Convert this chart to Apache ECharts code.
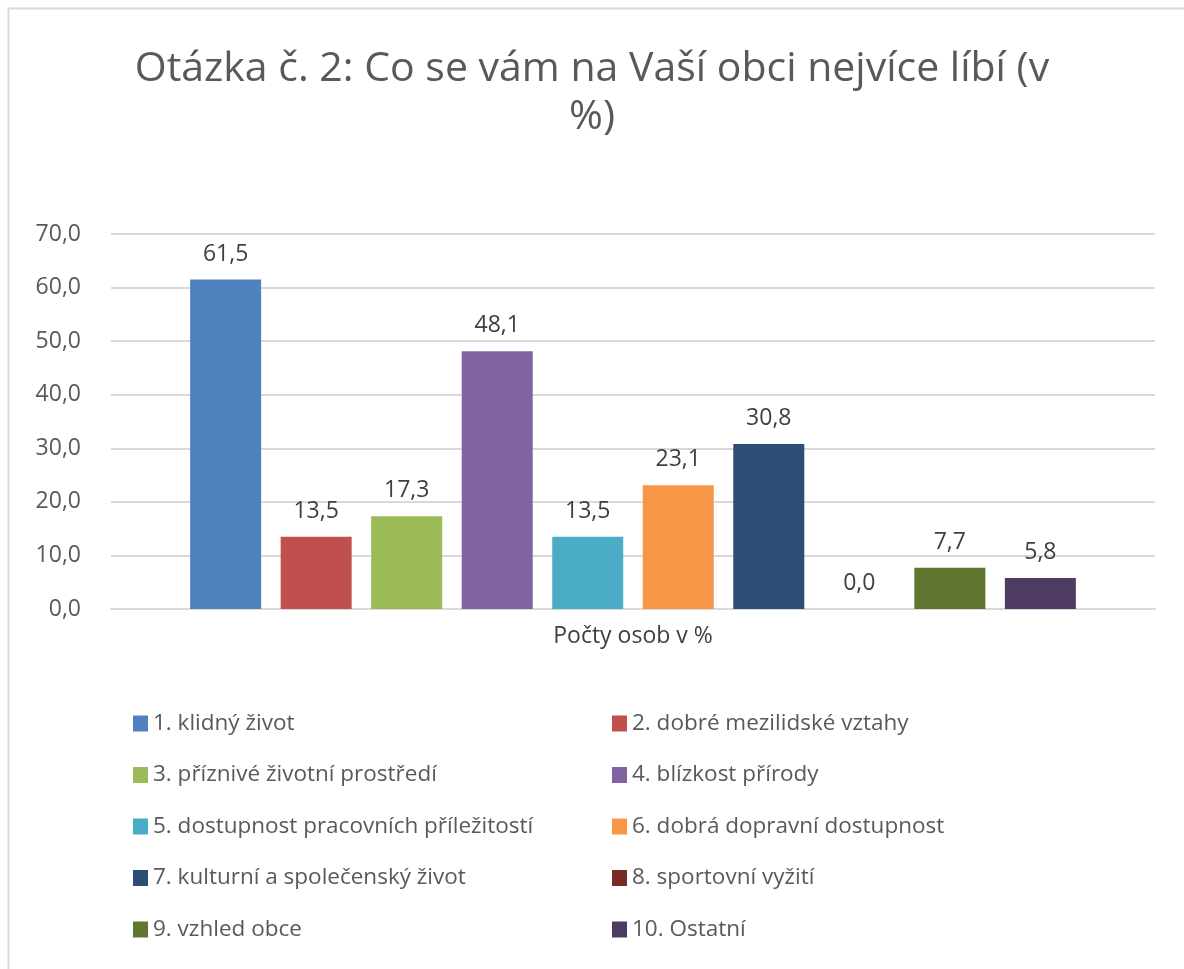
<!DOCTYPE html>
<html lang="cs">
<head>
<meta charset="UTF-8">
<title>Otázka č. 2</title>
<style>
  * { margin: 0; padding: 0; }
  body { background: #fff; }
  #chart { width: 1184px; height: 969px; }
</style>
</head>
<body>
<div id="chart"></div>
<script src="https://cdn.jsdelivr.net/npm/echarts@6/dist/echarts.min.js"></script>
<script>
  const category = 'Počty osob v %';
  const names = [
    '1. klidný život', '2. dobré mezilidské vztahy',
    '3. příznivé životní prostředí', '4. blízkost přírody',
    '5. dostupnost pracovních příležitostí', '6. dobrá dopravní dostupnost',
    '7. kulturní a společenský život', '8. sportovní vyžití',
    '9. vzhled obce', '10. Ostatní'
  ];
  const values = [61.5, 13.5, 17.3, 48.1, 13.5, 23.1, 30.8, 0.0, 7.7, 5.8];
  const colors = ['#4F81BD', '#C0504D', '#9BBB59', '#8064A2', '#4BACC6',
                  '#F79646', '#2C4D75', '#772C2A', '#5F7530', '#4D3B62'];

  const fmt = v => v.toFixed(1).replace('.', ',');
  const font = '"Open Sans", "Noto Sans", sans-serif';

  const chart = echarts.init(document.getElementById('chart'));

  const series = names.map((n, i) => ({
    name: n,
    type: 'bar',
    barWidth: 71,
    barGap: '27.5%',
    itemStyle: { color: colors[i] },
    label: {
      show: true,
      position: 'top',
      distance: 14,
      color: '#404040',
      fontSize: 23,
      fontFamily: font,
      formatter: p => fmt(p.value)
    },
    data: [values[i]]
  }));

  const legendBase = {
    orient: 'vertical',
    top: 707,
    itemGap: 28.5,
    itemWidth: 15,
    itemHeight: 16,
    icon: 'rect',
    textStyle: { color: '#595959', fontSize: 22.5, fontFamily: font }
  };

  chart.setOption({
    backgroundColor: '#fff',
    animation: false,
    color: colors,
    title: {
      text: 'Otázka č. 2: Co se vám na Vaší obci nejvíce líbí (v\n%)',
      left: 'center',
      top: 40,
      textStyle: {
        color: '#595959',
        fontSize: 41,
        fontWeight: 'normal',
        fontFamily: font,
        lineHeight: 48
      }
    },
    graphic: [{
      type: 'rect',
      shape: { x: 8.5, y: 8.5, width: 1200, height: 1000 },
      style: { fill: 'none', stroke: '#d9d9d9', lineWidth: 2 },
      silent: true
    }],
    legend: [
      Object.assign({}, legendBase, { left: 128, data: names.filter((_, i) => i % 2 === 0) }),
      Object.assign({}, legendBase, { left: 607, data: names.filter((_, i) => i % 2 === 1) })
    ],
    grid: { left: 111, right: 29, top: 234, bottom: 360 },
    xAxis: {
      type: 'category',
      data: [category],
      axisLine: { show: true, lineStyle: { color: '#d9d9d9', width: 2 } },
      axisTick: { show: false },
      axisLabel: { color: '#404040', fontSize: 23, fontFamily: font, margin: 16 }
    },
    yAxis: {
      type: 'value',
      min: 0,
      max: 70,
      interval: 10,
      axisLine: { show: false },
      axisTick: { show: false },
      splitLine: { lineStyle: { color: '#d9d9d9', width: 2 } },
      axisLabel: {
        color: '#595959',
        fontSize: 23,
        fontFamily: font,
        margin: 30,
        formatter: v => fmt(v)
      }
    },
    series: series
  });
</script>
</body>
</html>
